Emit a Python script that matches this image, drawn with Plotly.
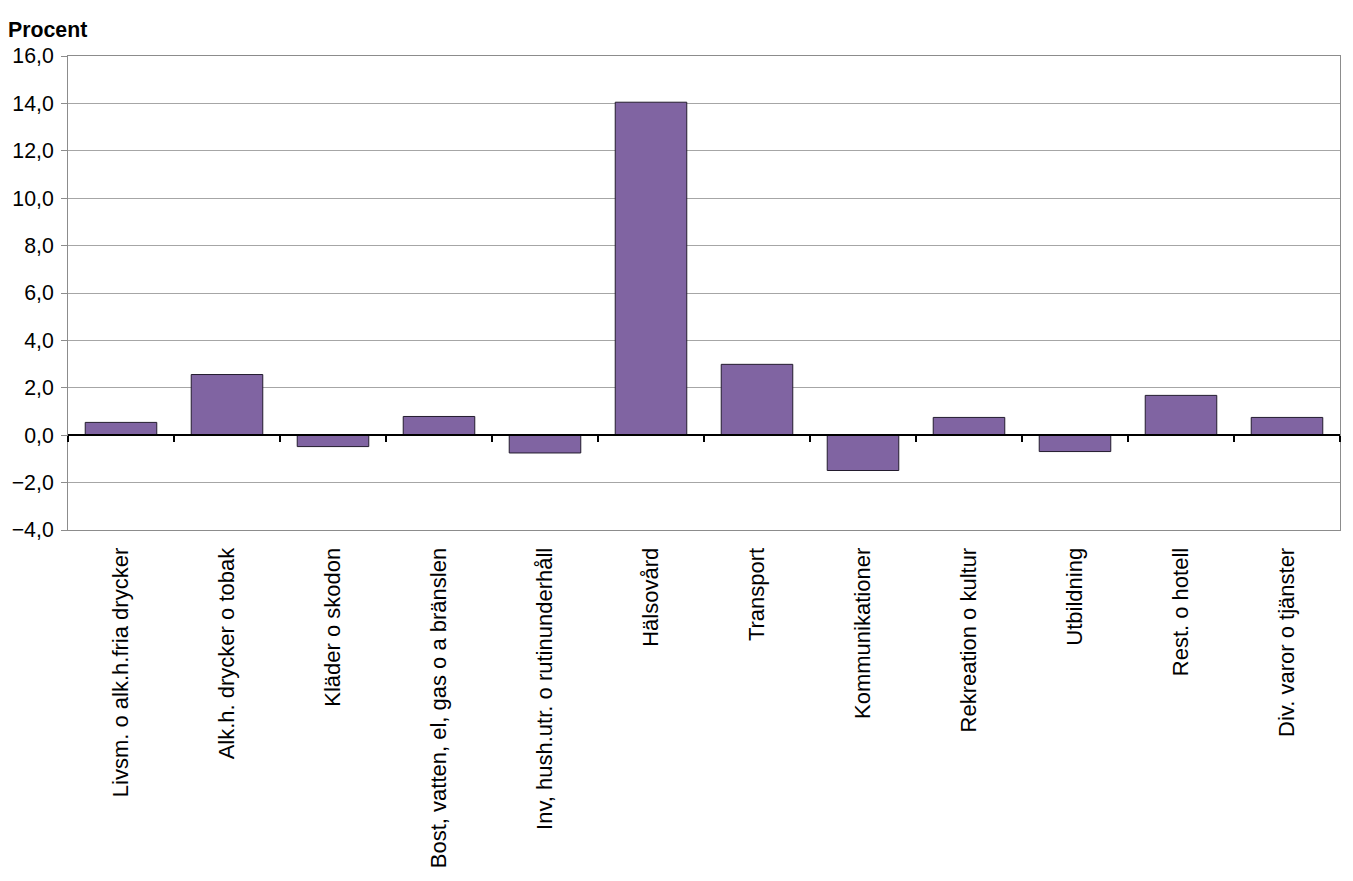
import plotly.graph_objects as go

categories = [
    "Livsm. o alk.h.fria drycker",
    "Alk.h. drycker o tobak",
    "Kläder o skodon",
    "Bost, vatten, el, gas o a bränslen",
    "Inv, hush.utr. o rutinunderhåll",
    "Hälsovård",
    "Transport",
    "Kommunikationer",
    "Rekreation o kultur",
    "Utbildning",
    "Rest. o hotell",
    "Div. varor o tjänster",
]
values = [0.54, 2.56, -0.48, 0.79, -0.75, 14.05, 2.99, -1.49, 0.75, -0.69, 1.68, 0.75]
y_ticks = [-4, -2, 0, 2, 4, 6, 8, 10, 12, 14, 16]

FONT = "Arial, Liberation Sans, sans-serif"
FS = 21.3

fig = go.Figure()
fig.add_trace(go.Bar(
    x=categories, y=values,
    marker=dict(color="#8064A2", line=dict(color="#231c2e", width=1)),
    width=0.675,
    hoverinfo="x+y",
))
# overlay axis acting as the zero line with boundary ticks
fig.add_trace(go.Scatter(x=categories, y=[0]*len(categories), xaxis="x2", mode="lines",
                         line=dict(width=0), showlegend=False, hoverinfo="skip"))

fig.update_layout(
    width=1353, height=881,
    margin=dict(l=67, r=12, t=56, b=351),
    plot_bgcolor="white", paper_bgcolor="white",
    separators=", ",
    showlegend=False,
    font=dict(family=FONT, color="black"),
    xaxis=dict(
        type="category", categoryorder="array", categoryarray=categories,
        range=[-0.5, 11.5],
        tickangle=-90, tickfont=dict(size=22),
        ticks="", ticklabelstandoff=8,
        showline=True, linecolor="#8c8c8c", linewidth=1, mirror=True,
        showgrid=False,
    ),
    xaxis2=dict(
        type="category", categoryorder="array", categoryarray=categories,
        range=[-0.5, 11.5], overlaying="x", anchor="free", position=0.2,
        side="bottom",
        tickson="boundaries", ticks="outside", ticklen=6, tickwidth=2, tickcolor="black",
        showticklabels=False, showline=True, linecolor="black", linewidth=2,
        showgrid=False,
    ),
    yaxis=dict(
        range=[-4, 16], tickvals=y_ticks, tickformat=".1f",
        tickfont=dict(size=FS),
        ticks="outside", ticklen=6, tickcolor="#8c8c8c",
        showgrid=True, gridcolor="#a6a6a6", gridwidth=1,
        zeroline=False,
        showline=True, linecolor="#8c8c8c", linewidth=1, mirror=True,
        ticklabelstandoff=3,
    ),
    annotations=[dict(
        text="<b>Procent</b>", xref="paper", yref="paper", x=-0.049, y=1.025,
        xanchor="left", yanchor="bottom", showarrow=False,
        font=dict(size=FS, family=FONT),
    )],
)

fig.write_html("out.html")
